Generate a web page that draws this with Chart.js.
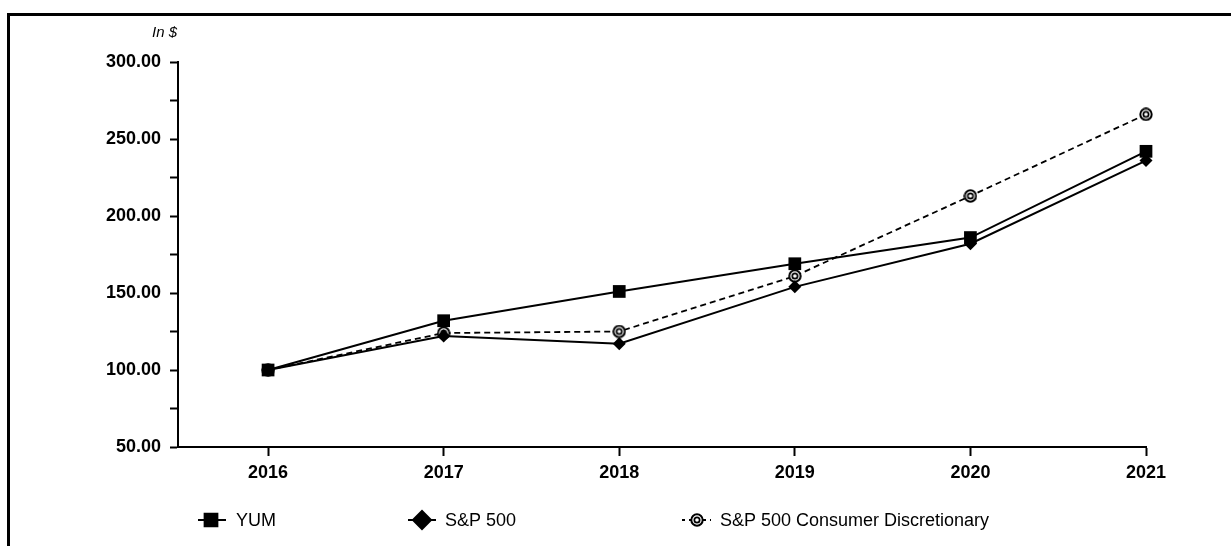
<!DOCTYPE html>
<html>
<head>
<meta charset="utf-8">
<script src="https://cdn.jsdelivr.net/npm/chart.js@4"></script>
<style>
  html, body { margin: 0; padding: 0; background: #fff; overflow: hidden; }
  #frame { position: absolute; left: 7px; top: 13px; width: 1240px; height: 560px; border: 3px solid #000; }
  #wrap { position: absolute; left: 0; top: 0; width: 1231px; height: 546px; }
</style>
</head>
<body>
<div id="frame"></div>
<div id="wrap"><canvas id="perfChart" width="1231" height="546"></canvas></div>
<script>
const years = [2016, 2017, 2018, 2019, 2020, 2021];
const yumValues = [100, 132, 151, 169, 186, 242];
const sp500Values = [100, 122, 117, 154, 182, 236];
const consDiscValues = [100, 124, 125, 161, 213, 266];
const seriesLabels = ['YUM', 'S&P 500', 'S&P 500 Consumer Discretionary'];
const yMin = 50;
const yMax = 300;
const unitLabel = 'In $';

const FONT = '"Liberation Sans", Arial, sans-serif';

// double ring marker used for the consumer discretionary series
function ringMarker(size) {
    const c = document.createElement('canvas');
    c.width = size;
    c.height = size;
    const g = c.getContext('2d');
    const m = size / 2;
    g.lineWidth = 2;
    g.strokeStyle = '#000';
    g.fillStyle = '#fff';
    g.beginPath();
    g.arc(m, m, m - 1.3, 0, Math.PI * 2);
    g.fill();
    g.stroke();
    g.lineWidth = 1.7;
    g.beginPath();
    g.arc(m, m, m * 0.38, 0, Math.PI * 2);
    g.stroke();
    return c;
}

const ring = ringMarker(14);
const ringLegend = ringMarker(14);

function toPoints(values) {
    return values.map((v, i) => ({ x: years[i], y: v }));
}

const legendPlugin = {
    id: 'customLegend',
    afterDraw(chart) {
        const ctx = chart.ctx;
        const y = 520;
        const items = [
            { x0: 198, x1: 226, mx: 211, tx: 236, dash: [], style: 'rect', r: 9 },
            { x0: 408, x1: 436, mx: 422, tx: 445, dash: [], style: 'rectRot', r: 9 },
            { x0: 682, x1: 711, mx: 697, tx: 720, dash: [3, 4], style: ringLegend, r: 7 }
        ];
        ctx.save();
        items.forEach((it, i) => {
            ctx.strokeStyle = '#000';
            ctx.lineWidth = 2;
            ctx.setLineDash(it.dash);
            ctx.beginPath();
            ctx.moveTo(it.x0, y);
            ctx.lineTo(it.x1, y);
            ctx.stroke();
            ctx.setLineDash([]);
            ctx.fillStyle = '#000';
            Chart.helpers.drawPoint(ctx, {
                pointStyle: it.style, radius: it.r, rotation: 0, borderWidth: 1
            }, Math.round(it.mx), y);
            ctx.fillStyle = '#000';
            ctx.font = '18px ' + FONT;
            ctx.textBaseline = 'middle';
            ctx.textAlign = 'left';
            ctx.fillText(chart.data.datasets[i].label, it.tx, y + 1);
        });
        ctx.font = 'italic 15px ' + FONT;
        ctx.textAlign = 'right';
        ctx.fillText(unitLabel, 177, 33);
        ctx.restore();
    }
};

const ctx = document.getElementById('perfChart').getContext('2d');
new Chart(ctx, {
    type: 'line',
    data: {
        datasets: [{
            label: seriesLabels[0],
            data: toPoints(yumValues),
            borderColor: '#000',
            backgroundColor: '#000',
            borderWidth: 2,
            pointStyle: 'rect',
            pointRadius: 9,
            pointBorderWidth: 0,
            tension: 0,
            clip: false
        }, {
            label: seriesLabels[1],
            data: toPoints(sp500Values),
            borderColor: '#000',
            backgroundColor: '#000',
            borderWidth: 2,
            pointStyle: 'rectRot',
            pointRadius: 6.5,
            pointBorderWidth: 0,
            tension: 0,
            clip: false
        }, {
            label: seriesLabels[2],
            data: toPoints(consDiscValues),
            borderColor: '#000',
            backgroundColor: '#fff',
            borderWidth: 1.8,
            borderDash: [6, 4],
            pointStyle: ring,
            pointRadius: 6,
            tension: 0,
            clip: false
        }]
    },
    options: {
        responsive: false,
        animation: false,
        events: [],
        layout: {
            padding: { left: 0, top: 62, right: 85, bottom: 0 }
        },
        plugins: {
            legend: { display: false },
            tooltip: { enabled: false }
        },
        scales: {
            x: {
                type: 'linear',
                min: 2015.487,
                max: 2021,
                afterFit: scale => { scale.height = 99; },
                afterBuildTicks: scale => {
                    scale.ticks = years.map(v => ({ value: v }));
                },
                border: { display: true, color: '#000', width: 2 },
                grid: {
                    drawOnChartArea: false,
                    drawTicks: true,
                    tickLength: 9,
                    tickWidth: 2,
                    tickColor: '#000'
                },
                ticks: {
                    padding: 6,
                    color: '#000',
                    font: { family: FONT, size: 18, weight: 'bold' },
                    callback: v => String(v)
                }
            },
            y: {
                min: yMin,
                max: yMax,
                afterFit: scale => { scale.width = 178; },
                border: { display: true, color: '#000', width: 2 },
                grid: {
                    drawOnChartArea: false,
                    drawTicks: true,
                    tickLength: 8,
                    tickWidth: 2,
                    tickColor: '#000'
                },
                ticks: {
                    stepSize: 25,
                    padding: 9,
                    color: '#000',
                    font: { family: FONT, size: 18, weight: 'bold' },
                    callback: v => (v % 50 === 0 ? v.toFixed(2) : '')
                }
            }
        }
    },
    plugins: [legendPlugin]
});
</script>
</body>
</html>
